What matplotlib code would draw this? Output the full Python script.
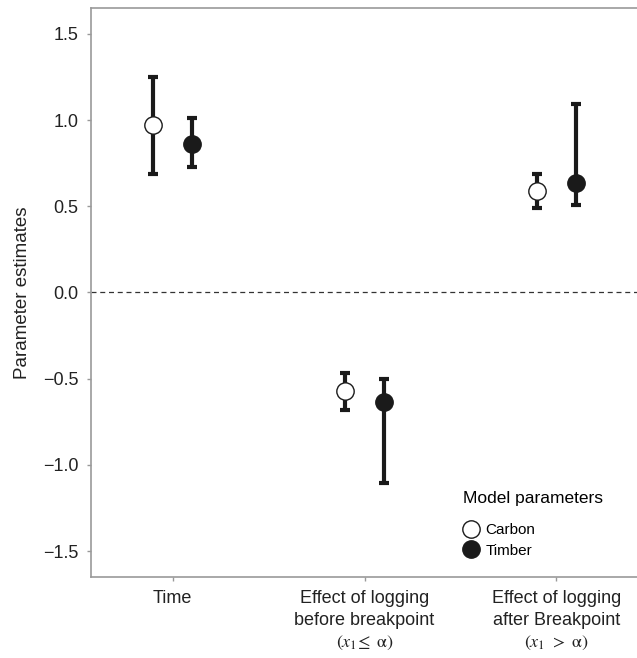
import numpy as np
import matplotlib.pyplot as plt

plt.rcParams['font.family'] = ['Liberation Sans', 'DejaVu Sans']
plt.rcParams['mathtext.fontset'] = 'stix'

# Parameter estimates with confidence limits
categories = ["Time",
              "Effect of logging\nbefore breakpoint\n$(x_1\\!\\leq\\ \\mathrm{\\alpha})$",
              "Effect of logging\nafter Breakpoint\n$(x_1\\ >\\ \\mathrm{\\alpha})$"]
carbon_est = [0.973, -0.572, 0.591]
carbon_low = [0.689, -0.684, 0.491]
carbon_high = [1.251, -0.467, 0.689]
timber_est = [0.863, -0.637, 0.636]
timber_low = [0.730, -1.107, 0.508]
timber_high = [1.014, -0.504, 1.091]

x = np.arange(1, len(categories) + 1)
off = 0.1

fig = plt.figure(figsize=(6.37, 6.58), dpi=100)
ax = fig.add_axes([0.143, 0.123, 0.857, 0.865])

ax.axhline(0, color="#333333", lw=0.9, ls=(0, (4, 3)), zorder=1)

for xs, est, lo, hi, face, lab in [
        (x - off, carbon_est, carbon_low, carbon_high, "white", "Carbon"),
        (x + off, timber_est, timber_low, timber_high, "#1a1a1a", "Timber")]:
    est = np.array(est)
    yerr = [est - np.array(lo), np.array(hi) - est]
    ax.errorbar(xs, est, yerr=yerr, fmt="none", ecolor="#1a1a1a",
                elinewidth=3, capsize=3.7, capthick=3, zorder=2)
    ax.plot(xs, est, "o", ms=12.5, mfc=face, mec="#1a1a1a", mew=1,
            ls="none", label=lab, zorder=3)

ax.set_xlim(0.575, 3.42)
ax.set_ylim(-1.65, 1.65)
ax.set_xticks(x)
ax.set_xticklabels(categories, fontsize=13, color="#222222", linespacing=1.4)
ax.set_yticks([-1.5, -1.0, -0.5, 0.0, 0.5, 1.0, 1.5])
ax.set_yticklabels(["\u22121.5", "\u22121.0", "\u22120.5", "0.0", "0.5", "1.0", "1.5"],
                   fontsize=13, color="#222222")
ax.set_ylabel("Parameter estimates", fontsize=13.5, color="#222222", labelpad=9)

for s in ["top", "left", "bottom"]:
    ax.spines[s].set_color("#999999")
    ax.spines[s].set_linewidth(1.2)
ax.spines["right"].set_visible(False)
ax.tick_params(colors="#999999", length=3, width=1, labelcolor="#222222", pad=4)
ax.tick_params(axis="x", pad=6)
ax.tick_params(axis="y", pad=6)

leg = ax.legend(title="Model parameters", loc="lower left",
                bbox_to_anchor=(0.662, 0.015), frameon=False, fontsize=11,
                title_fontsize=12.5, handletextpad=0.45, labelspacing=0.45,
                handlelength=1.0, borderpad=0.2)
leg._legend_box.align = "left"
leg._legend_box.sep = 12

fig.savefig("out.png", dpi=100)
